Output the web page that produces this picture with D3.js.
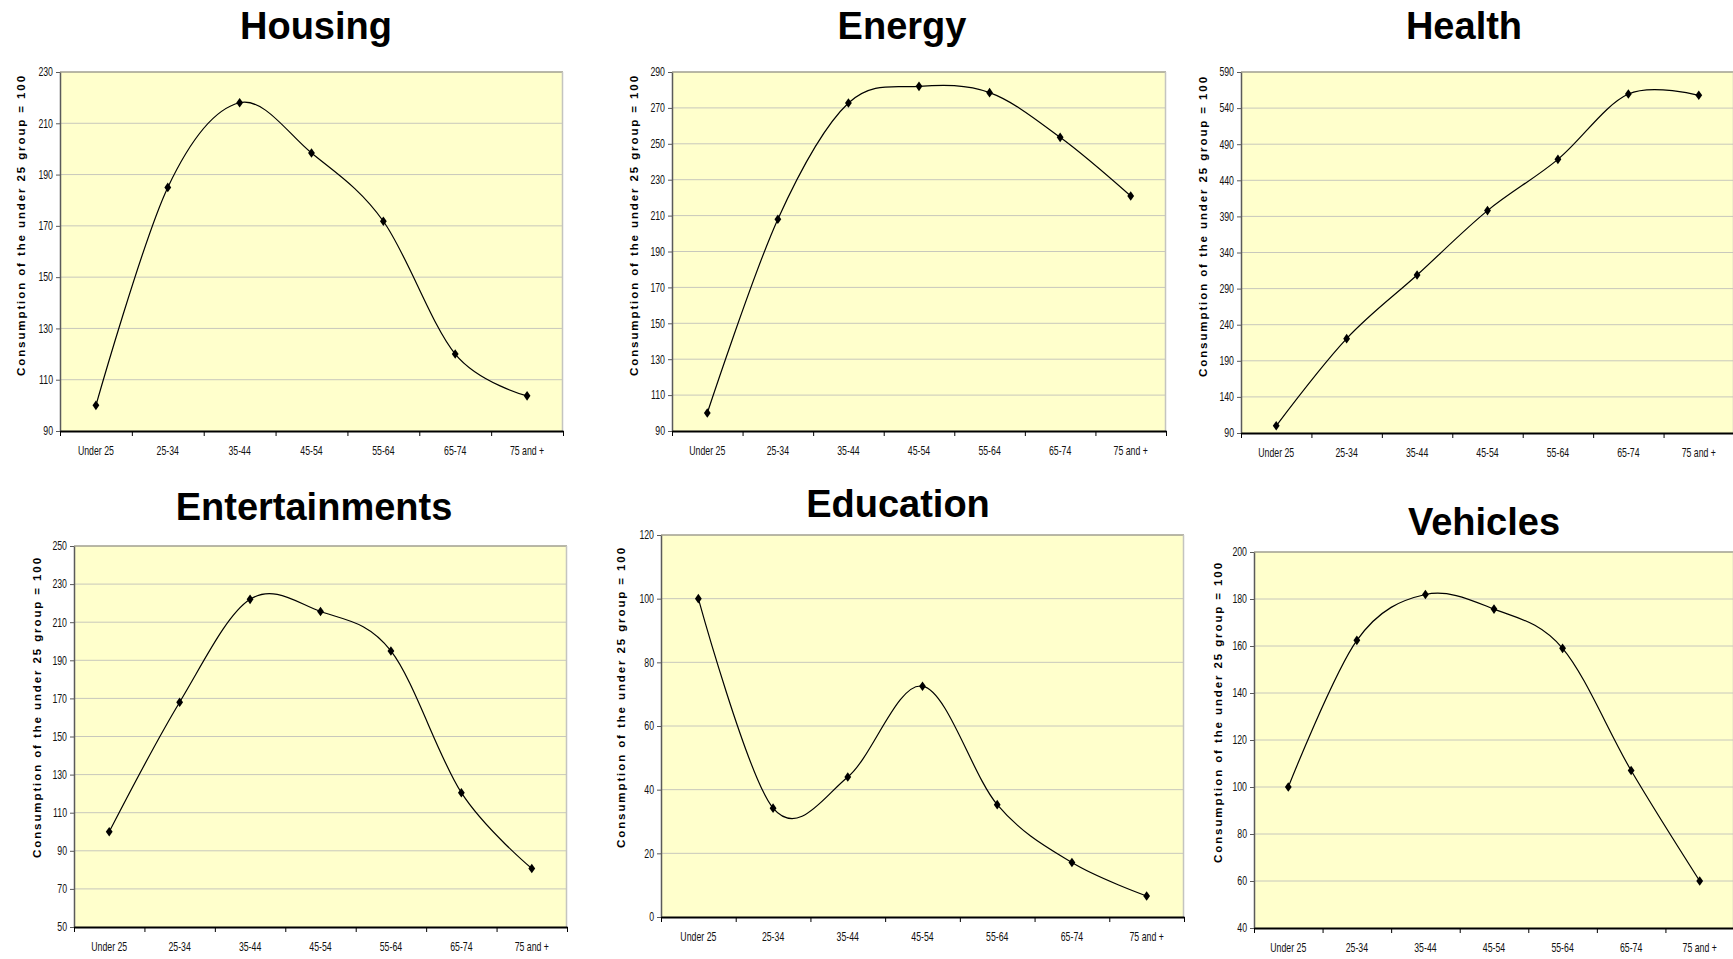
<!DOCTYPE html>
<html>
<head>
<meta charset="utf-8">
<script src="https://cdn.jsdelivr.net/npm/d3@7"></script>
<style>
    body { margin: 0; background: #ffffff; }
    svg { display: block; }
    .title { font-family: "Liberation Sans", Arial, sans-serif; font-weight: bold; font-size: 38px; fill: #000; }
    .y-label { font-family: "Liberation Sans", Arial, sans-serif; font-weight: bold; font-size: 11.5px; letter-spacing: 1.9px; fill: #000; }
    .tick text { font-family: "Liberation Sans", Arial, sans-serif; font-size: 12px; fill: #111; }
</style>
</head>
<body>
<div id="app"></div>
<script>
// Age groups on the x axis
const categories = ["Under 25", "25-34", "35-44", "45-54", "55-64", "65-74", "75 and +"];

// Consumption index per age group (under 25 group = 100)
const housing = [100, 185, 218, 198.4, 171.8, 120, 103.7];
const energy = [100, 208, 272.7, 282, 278.5, 253.6, 220.9];
const health = [100, 220.7, 308.8, 398, 469, 559.5, 557.7];
const entertainments = [100, 168, 222, 215.6, 194.9, 120.5, 80.7];
const education = [100, 34.2, 44, 72.5, 35.3, 17.1, 6.6];
const vehicles = [100, 162.4, 181.9, 175.7, 159, 107, 60];

// Y tick labels of each panel
const housingTicks = [90, 110, 130, 150, 170, 190, 210, 230];
const energyTicks = [90, 110, 130, 150, 170, 190, 210, 230, 250, 270, 290];
const healthTicks = [90, 140, 190, 240, 290, 340, 390, 440, 490, 540, 590];
const entertainmentsTicks = [50, 70, 90, 110, 130, 150, 170, 190, 210, 230, 250];
const educationTicks = [0, 20, 40, 60, 80, 100, 120];
const vehiclesTicks = [40, 60, 80, 100, 120, 140, 160, 180, 200];

const yLabel = "Consumption of the under 25 group = 100";

const svgWidth = 1733;
const svgHeight = 959;
const narrow = 0.73; // horizontal squeeze for the condensed tick font

// Panel layout (plot box, title and axis title positions)
const panels = [
    { title: "Housing", values: housing, ticks: housingTicks,
      left: 60, right: 563, top: 72, bottom: 431, titleX: 316, titleY: 39, labelX: 21, labelY: 225 },
    { title: "Energy", values: energy, ticks: energyTicks,
      left: 672, right: 1166, top: 72, bottom: 431, titleX: 902, titleY: 39, labelX: 634, labelY: 225 },
    { title: "Health", values: health, ticks: healthTicks,
      left: 1241, right: 1734, top: 72, bottom: 433, titleX: 1464, titleY: 39, labelX: 1203, labelY: 226 },
    { title: "Entertainments", values: entertainments, ticks: entertainmentsTicks,
      left: 74, right: 567, top: 546, bottom: 927, titleX: 314, titleY: 520, labelX: 37, labelY: 707 },
    { title: "Education", values: education, ticks: educationTicks,
      left: 661, right: 1184, top: 535, bottom: 917, titleX: 898, titleY: 517, labelX: 621, labelY: 697 },
    { title: "Vehicles", values: vehicles, ticks: vehiclesTicks,
      left: 1254, right: 1734, top: 552, bottom: 928, titleX: 1484, titleY: 535, labelX: 1218, labelY: 712 }
];

const svg = d3.select("#app").append("svg")
    .attr("width", svgWidth)
    .attr("height", svgHeight);

function plotPanel(p) {
    const x = d3.scaleBand()
        .domain(categories)
        .range([p.left, p.right]);

    // boundaries between the age groups, used for the x tick marks
    const edge = d3.scaleLinear()
        .domain([0, categories.length])
        .range([p.left, p.right]);

    const y = d3.scaleLinear()
        .domain(d3.extent(p.ticks))
        .range([p.bottom, p.top]);

    const g = svg.append("g").classed("panel", true);

    g.append("rect")
        .attr("x", p.left)
        .attr("y", p.top)
        .attr("width", p.right - p.left)
        .attr("height", p.bottom - p.top)
        .attr("fill", "#FFFFCC");

    g.selectAll(".grid")
        .data(p.ticks.slice(1))
        .enter()
        .append("line")
        .classed("grid", true)
        .attr("x1", p.left)
        .attr("x2", p.right)
        .attr("y1", function(d) { return y(d); })
        .attr("y2", function(d) { return y(d); })
        .attr("stroke", function(d, i) { return i === p.ticks.length - 2 ? "#a09f90" : "#c8c8bc"; })
        .attr("stroke-width", function(d, i) { return i === p.ticks.length - 2 ? 1.6 : 1; });

    // right frame
    g.append("line")
        .attr("x1", p.right - 0.5).attr("x2", p.right - 0.5)
        .attr("y1", p.top).attr("y2", p.bottom)
        .attr("stroke", "#c4c4c0")
        .attr("stroke-width", 1.5);

    // y axis
    const yAxis = g.append("g")
        .attr("transform", "translate(" + p.left + ",0)")
        .call(d3.axisLeft(y).tickValues(p.ticks).tickSize(4).tickSizeOuter(0).tickPadding(2));
    yAxis.select(".domain").attr("stroke", "#5a5a5a").attr("stroke-width", 1.5);
    yAxis.selectAll(".tick line").attr("stroke", "#5a5a5a");
    yAxis.selectAll(".tick text")
        .attr("x", -7 / narrow)
        .attr("transform", "scale(" + narrow + ",1)");

    // x labels centred in each band
    const xLabels = g.append("g")
        .attr("transform", "translate(0," + p.bottom + ")")
        .call(d3.axisBottom(x).tickSize(0).tickPadding(15));
    xLabels.select(".domain").remove();
    xLabels.selectAll(".tick text")
        .attr("fill", "#000")
        .attr("transform", "scale(" + narrow + ",1)");

    // x axis line and tick marks at the band edges
    const xAxis = g.append("g")
        .attr("transform", "translate(0," + p.bottom + ")")
        .call(d3.axisBottom(edge)
            .tickValues(d3.range(categories.length + 1))
            .tickFormat("")
            .tickSize(5)
            .tickSizeOuter(0));
    xAxis.select(".domain").attr("stroke", "#000").attr("stroke-width", 1.8);
    xAxis.selectAll(".tick line").attr("stroke", "#000");

    // smoothed series line
    const line = d3.line()
        .x(function(d, i) { return x(categories[i]) + x.bandwidth() / 2; })
        .y(function(d) { return y(d); })
        .curve(d3.curveCardinal.tension(0));

    g.append("path")
        .datum(p.values)
        .attr("d", line)
        .attr("fill", "none")
        .attr("stroke", "#000")
        .attr("stroke-width", 1.2);

    // diamond markers
    g.selectAll(".marker")
        .data(p.values)
        .enter()
        .append("path")
        .classed("marker", true)
        .attr("transform", function(d, i) {
            return "translate(" + (x(categories[i]) + x.bandwidth() / 2) + "," + y(d) + ")";
        })
        .attr("d", "M0,-4.8L3.4,0L0,4.8L-3.4,0Z")
        .attr("fill", "#000");

    g.append("text")
        .classed("title", true)
        .attr("x", p.titleX)
        .attr("y", p.titleY)
        .attr("text-anchor", "middle")
        .text(p.title);

    g.append("text")
        .classed("y-label", true)
        .attr("transform", "translate(" + p.labelX + "," + p.labelY + ") rotate(-90)")
        .attr("text-anchor", "middle")
        .attr("dy", "0.35em")
        .text(yLabel);
}

panels.forEach(plotPanel);
</script>
</body>
</html>
